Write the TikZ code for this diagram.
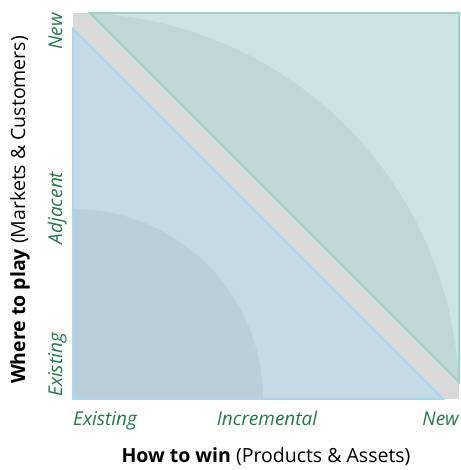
\documentclass[tikz,border=0pt]{standalone}
\usepackage{fontspec}
\setmainfont{Open Sans}
\definecolor{band}{HTML}{D9D9D9}
\definecolor{tealfill}{HTML}{CDE3E2}
\definecolor{tealdeep}{HTML}{C1D7D5}
\definecolor{tealline}{HTML}{9BD3CB}
\definecolor{bluefill}{HTML}{C5DAE6}
\definecolor{bluedeep}{HTML}{BACFDA}
\definecolor{blueline}{HTML}{A8D8F0}
\definecolor{levelgreen}{HTML}{1E7A46}
\begin{document}
\begin{tikzpicture}[x=1pt,y=1pt,
  level/.style={font=\fontsize{19}{22}\selectfont\itshape, text=levelgreen, inner sep=0pt},
  axistitle/.style={font=\fontsize{19.5}{23}\selectfont, text=black, inner sep=0pt}]
\useasboundingbox (0,0) rectangle (460,470);

% grey square behind both zones
\fill[band] (73,71) rectangle (459,457);

% new-market zone (upper right)
\coordinate (t1) at (90,457);
\coordinate (t2) at (459,457);
\coordinate (t3) at (459,88);
\fill[tealfill] (t1) -- (t2) -- (t3) -- cycle;
\begin{scope}
  \clip (t1) -- (t2) -- (t3) -- cycle;
  \fill[tealdeep] (73,71) circle[radius=386];
\end{scope}
\draw[tealline, line width=2pt, line join=miter] (t1) -- (t2) -- (t3) -- cycle;

% core zone (lower left)
\coordinate (b1) at (73,441);
\coordinate (b2) at (73,71);
\coordinate (b3) at (443,71);
\fill[bluefill] (b1) -- (b2) -- (b3) -- cycle;
\begin{scope}
  \clip (b1) -- (b2) -- (b3) -- cycle;
  \fill[bluedeep] (73,71) circle[radius=190];
\end{scope}
\draw[blueline, line width=2pt, line join=miter] (b1) -- (b2) -- (b3) -- cycle;

% horizontal scale
\node[level, anchor=base west] (xe) at (73,44) {Existing};
\node[level, anchor=base] (xi) at (267,44) {Incremental};
\node[level, anchor=base east] (xn) at (459,44) {New};

% vertical scale
\node[level, rotate=90, anchor=base west] (ye) at (62,73) {Existing};
\node[level, rotate=90, anchor=base] (ya) at (62,262) {Adjacent};
\node[level, rotate=90, anchor=base east] (yn) at (62,457) {New};

% axis titles
\node[axistitle, anchor=base] (xt) at (266,7) {\textbf{How to win} (Products \& Assets)};
\node[axistitle, rotate=90, anchor=base] (yt) at (25,260) {\textbf{Where to play} (Markets \& Customers)};
\end{tikzpicture}
\end{document}
